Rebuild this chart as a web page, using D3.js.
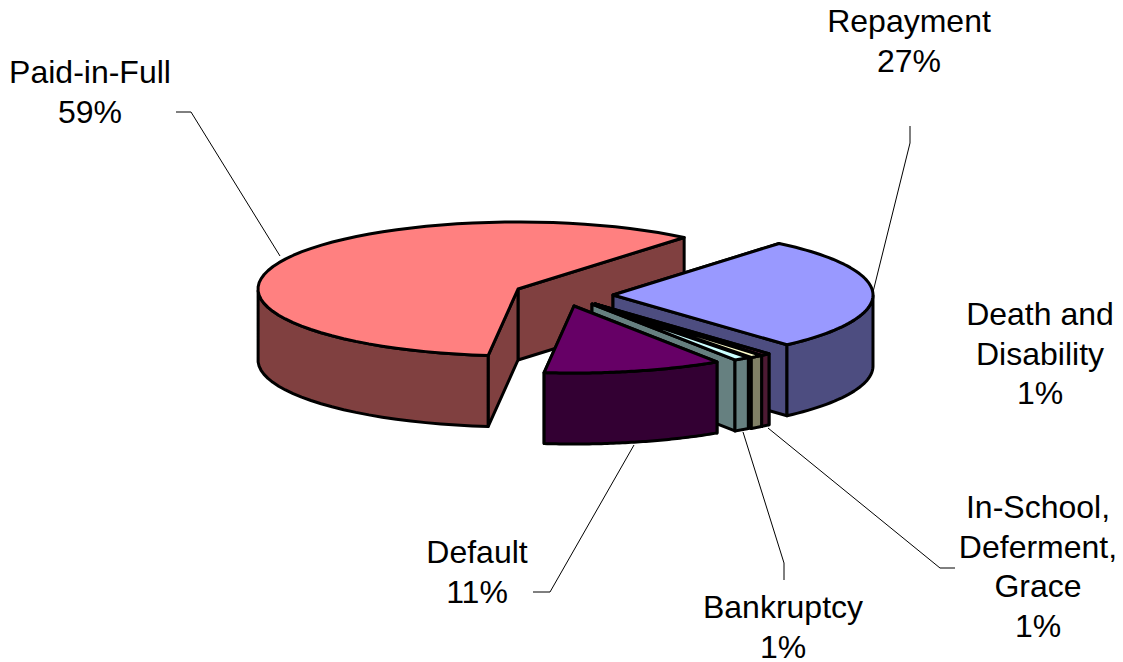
<!DOCTYPE html>
<html lang="en">
<head>
<title>Loan status</title>
<style>
    body { margin: 0; background: #fff; }
    svg { display: block; }
    text { font-family: "Liberation Sans", Arial, sans-serif; font-size: 32px; fill: #000; text-anchor: middle; }
    .leader { fill: none; stroke: #000; stroke-width: 1; }
    .face { stroke: #000; stroke-width: 3; stroke-linejoin: round; }
</style>
</head>
<body>
<svg id="chart" width="1123" height="662"></svg>
<script src="https://d3js.org/d3.v7.min.js"></script>
<script>
// data, clockwise from the front edge of the big slice
const categories = ['Paid-in-Full', 'Repayment', 'Death and Disability', 'In-School, Deferment, Grace', 'Bankruptcy', 'Default'];
const values = [59.2, 27.3, 0.6, 0.8, 1.0, 11.1];

// excel's old 3d pie colours
const topColors = ['#FF8080', '#9999FF', '#993366', '#FFFFCC', '#CCFFFF', '#660066'];
const sideColors = ['#804040', '#4D4D80', '#4D1A33', '#808066', '#668080', '#330033'];

// pie layout
const rx = 260, ry = 67, depth = 71;
const apexX = [518, 613, 595, 595, 592, 574];
const apexY = [289, 295, 304, 304, 304, 306];

// label layout
const labelLines = [['Paid-in-Full', '59%'], ['Repayment', '27%'], ['Death and', 'Disability', '1%'],
    ['In-School,', 'Deferment,', 'Grace', '1%'], ['Bankruptcy', '1%'], ['Default', '11%']];
const labelX = [90, 909, 1040, 1038, 783, 477];
const labelY = [83, 32, 325, 518, 618, 563];
const lineGap = 39.5;
const leaders = [
    [[176, 112], [191, 112], [280, 256]],
    [[910, 126], [910, 143], [873, 292]],
    null,
    [[955, 568], [940, 568], [768, 428]],
    [[784, 580], [784, 563], [743, 432]],
    [[533, 592], [550, 592], [634, 445]]
];

const svg = d3.select('#chart');

const pie = d3.pie().sort(null)
    .startAngle(186.6 * Math.PI / 180)
    .endAngle((186.6 + 360) * Math.PI / 180);
const slices = pie(values);

// d3 pie angle -> point on the tilted disc
const px = (a) => rx * Math.sin(a);
const py = (a) => -ry * Math.cos(a);
const line = d3.line();

slices.forEach((s, i) => {
    const g = svg.append('g').attr('transform', `translate(${apexX[i]}, ${apexY[i]})`);
    const steps = d3.range(0, 61).map((k) => s.startAngle + (s.endAngle - s.startAngle) * k / 60);
    const rim = steps.map((a) => [px(a), py(a)]);

    // cut faces, the one further back first
    const cuts = [s.startAngle, s.endAngle].sort((a, b) => py(a) - py(b));
    cuts.forEach((a) => {
        g.append('path').attr('class', 'face')
            .attr('fill', sideColors[i])
            .attr('d', line([[0, 0], [px(a), py(a)], [px(a), py(a) + depth], [0, depth]]) + 'Z');
    });

    // outer wall, only the part of the rim that faces us
    const front = rim.filter((p) => p[1] >= 0);
    if (front.length > 1) {
        const wall = front.concat(front.slice().reverse().map((p) => [p[0], p[1] + depth]));
        g.append('path').attr('class', 'face')
            .attr('fill', sideColors[i])
            .attr('d', line(wall) + 'Z');
    }

    // top
    g.append('path').attr('class', 'face')
        .attr('fill', topColors[i])
        .attr('d', line([[0, 0]].concat(rim)) + 'Z');
});

// leader lines
leaders.forEach((pts) => {
    if (pts) svg.append('path').attr('class', 'leader').attr('d', line(pts));
});

// labels
labelLines.forEach((lines, i) => {
    lines.forEach((t, j) => {
        svg.append('text')
            .attr('x', labelX[i])
            .attr('y', labelY[i] + j * lineGap)
            .text(t);
    });
});
</script>
</body>
</html>
